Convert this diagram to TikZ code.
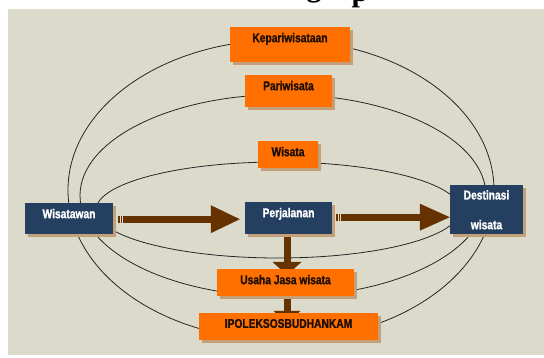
\documentclass[tikz,border=0pt]{standalone}
\usepackage{fontspec}
\setmainfont{Liberation Sans}
\newfontfamily\boxfont[FakeStretch=0.8, BoldFeatures={FakeBold=1.3}]{Liberation Sans}
\newfontfamily\titlefont{Liberation Serif}
\usetikzlibrary{calc,shadows}
\definecolor{bgbeige}{RGB}{220,218,203}
\definecolor{boxorange}{RGB}{255,112,0}
\definecolor{boxnavy}{RGB}{36,63,96}
\definecolor{arrowbrown}{RGB}{102,51,0}
\definecolor{shadowtan}{RGB}{196,160,122}
\definecolor{darktext}{RGB}{30,15,5}
\pgfdeclarelayer{ellipses}
\pgfdeclarelayer{arrows}
\pgfsetlayers{ellipses,arrows,main}
\begin{document}
\begin{tikzpicture}[x=1pt,y=-1pt,
  box/.style={anchor=north, inner xsep=0pt, inner ysep=0pt, text height=15pt,
    font=\boxfont\bfseries\fontsize{12.8}{15}\selectfont,
    general shadow={fill=shadowtan, shadow xshift=2.5pt, shadow yshift=-2.5pt}},
  obox/.style={box, fill=boxorange, text=darktext},
  nbox/.style={box, fill=boxnavy, text=white},
  ring/.style={draw=black!85, line width=0.8pt},
  shaft/.style={draw=arrowbrown, line width=7pt},
  tipfill/.style={fill=arrowbrown}]
\useasboundingbox (0,0) rectangle (544,358);

% title fragment (cropped at the top edge, as in the reference)
\node[font=\titlefont\bfseries\fontsize{30}{30}\selectfont, anchor=south, inner sep=0pt] (tg) at (314,3) {g};
\node[font=\titlefont\bfseries\fontsize{30}{30}\selectfont, anchor=south, inner sep=0pt] (tp) at (360,8) {p};

% boxes
\node[obox, minimum width=120pt, text depth=20pt] (kep) at (290,27) {Kepariwisataan};
\node[obox, minimum width=87pt, text depth=17pt] (pari) at (288.5,75) {Pariwisata};
\node[obox, minimum width=60pt, text depth=12pt] (wis) at (288,141) {Wisata};
\node[nbox, minimum width=88pt, text depth=16pt] (wtw) at (69,203) {Wisatawan};
\node[nbox, minimum width=87pt, text depth=17pt] (perj) at (288.5,202) {Perjalanan};
\node[nbox, minimum width=73pt, text height=14.3pt, text depth=34.7pt] (dest) at (486.5,185)
  {\begin{tabular}[t]{@{}c@{}}Destinasi\\[14.7pt]wisata\end{tabular}};
\node[obox, minimum width=137pt, text depth=12pt] (usaha) at (285.5,269) {Usaha Jasa wisata};
\node[obox, minimum width=179pt, text height=14.7pt, text depth=12.3pt] (ipol) at (288.5,313) {IPOLEKSOSBUDHANKAM};

\begin{pgfonlayer}{ellipses}
  \fill[bgbeige] (8,9.5) rectangle (544,355);
  \draw[ring] (281,190) ellipse [x radius=213pt, y radius=150pt];
  \draw[ring] (283,195.5) ellipse [x radius=203pt, y radius=101pt];
  \draw[ring] (278,210) ellipse [x radius=182pt, y radius=48pt];
\end{pgfonlayer}

\begin{pgfonlayer}{arrows}
  % Wisatawan -> Perjalanan
  \coordinate (a1s) at ($(wtw.east)+(10,0.5)$);
  \coordinate (a1t) at ($(perj.west)+(-5,1)$);
  \fill[tipfill] ($(a1s)+(-5,-3.5)$) rectangle ++(1.4,7);
  \fill[tipfill] ($(a1s)+(-2.6,-3.5)$) rectangle ++(1.4,7);
  \draw[shaft] (a1s) -- ($(a1t)+(-28,0)$);
  \fill[tipfill] ($(a1t)+(-29,-14)$) -- (a1t) -- ($(a1t)+(-29,14)$) -- cycle;
  % Perjalanan -> Destinasi wisata
  \coordinate (a2s) at ($(perj.east)+(8.8,-1)$);
  \coordinate (a2t) at ($(dest.west)+(0,7.5)$);
  \fill[tipfill] ($(a2s)+(-4.8,-3.5)$) rectangle ++(1.4,7);
  \fill[tipfill] ($(a2s)+(-2.4,-3.5)$) rectangle ++(1.4,7);
  \draw[shaft] (a2s) -- ($(a2t)+(-29,0)$);
  \fill[tipfill] ($(a2t)+(-30,-13.5)$) -- (a2t) -- ($(a2t)+(-30,13.5)$) -- cycle;
  % Perjalanan -> Usaha Jasa wisata
  \coordinate (a3s) at ($(perj.south)+(-1.5,0)$);
  \coordinate (a3t) at ($(usaha.north)+(1.5,6)$);
  \draw[shaft] (a3s) -- ($(a3t)+(0,-12)$);
  \fill[tipfill] ($(a3t)+(-14.5,-13)$) -- (a3t) -- ($(a3t)+(14.5,-13)$) -- cycle;
  % Usaha Jasa wisata -> IPOLEKSOSBUDHANKAM
  \coordinate (a4s) at ($(usaha.south)+(1.5,0)$);
  \coordinate (a4t) at ($(ipol.north)+(-1.5,11)$);
  \draw[shaft] (a4s) -- ($(a4t)+(0,-12)$);
  \fill[tipfill] ($(a4t)+(-13.5,-13)$) -- (a4t) -- ($(a4t)+(13.5,-13)$) -- cycle;
\end{pgfonlayer}
\end{tikzpicture}
\end{document}
